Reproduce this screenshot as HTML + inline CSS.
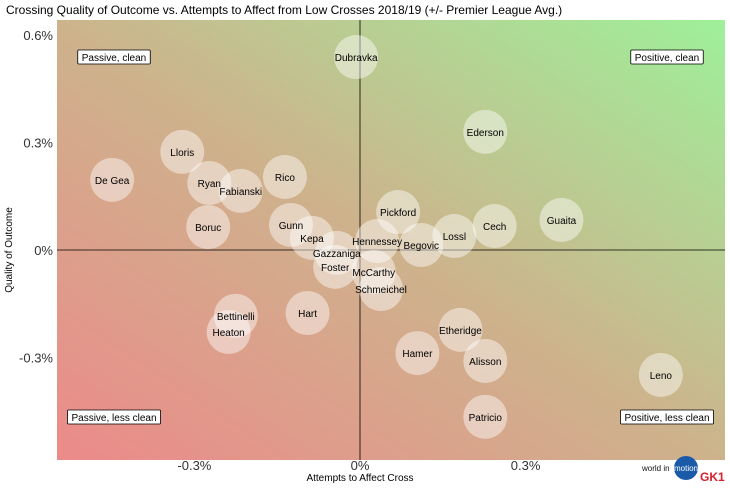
<!DOCTYPE html>
<html><head><meta charset="utf-8"><style>
body{margin:0;background:#fff;font-family:"Liberation Sans",sans-serif;}
svg text{font-family:"Liberation Sans",sans-serif;}
</style></head><body>
<svg id="chart" width="730" height="487">
<defs>
<linearGradient id="bg" x1="0" y1="1" x2="1" y2="0">
<stop offset="0" stop-color="#ec8a8a"/>
<stop offset="0.5" stop-color="#cdb38c"/>
<stop offset="1" stop-color="#9ef09a"/>
</linearGradient>
</defs>
<text x="6" y="14" font-size="12" fill="#000">Crossing Quality of Outcome vs. Attempts to Affect from Low Crosses 2018/19 (+/- Premier League Avg.)</text>
<rect x="57" y="20" width="668" height="440" fill="url(#bg)"/>
<g id="axes"></g>
<g id="points"></g>
<g id="labels"></g>
<g id="quads"></g>
<text x="360" y="481" font-size="10" text-anchor="middle">Attempts to Affect Cross</text>
<text transform="translate(12,250) rotate(-90)" font-size="10" text-anchor="middle">Quality of Outcome</text>
<g>
<text x="642" y="471" font-size="8" fill="#111">world in</text>
<circle cx="686" cy="468" r="12" fill="#1a5aa8"/>
<text x="686" y="471" font-size="8" fill="#fff" text-anchor="middle">motion</text>
<text x="700" y="481" font-size="12" font-weight="bold" fill="#d81e2a">GK1</text>
</g>
</svg>
<script>
const names=["Dubravka","Ederson","Lloris","De Gea","Ryan","Fabianski","Rico","Boruc","Gunn","Kepa","Gazzaniga","Hennessey","Foster","McCarthy","Schmeichel","Pickford","Lossl","Begovic","Cech","Guaita","Bettinelli","Heaton","Hart","Etheridge","Hamer","Alisson","Leno","Patricio"];
const xVals=[-0.007,0.227,-0.322,-0.449,-0.273,-0.216,-0.136,-0.275,-0.125,-0.087,-0.042,0.031,-0.045,0.025,0.038,0.069,0.171,0.111,0.244,0.365,-0.225,-0.238,-0.095,0.182,0.104,0.227,0.545,0.227];
const yVals=[0.539,0.33,0.274,0.196,0.187,0.165,0.204,0.064,0.07,0.034,-0.008,0.025,-0.047,-0.061,-0.109,0.106,0.039,0.014,0.067,0.084,-0.184,-0.229,-0.176,-0.223,-0.288,-0.31,-0.349,-0.466];
const xTicks=[-0.3,0,0.3];
const yTicks=[-0.3,0,0.3,0.6];
const xTickLabels=["-0.3%","0%","0.3%"];
const yTickLabels=["-0.3%","0%","0.3%","0.6%"];
const NS="http://www.w3.org/2000/svg";
const xS=v=>360+v*552;
const yS=v=>250-v*358;
function mk(t,a,p){const e=document.createElementNS(NS,t);for(const k in a)e.setAttribute(k,a[k]);p.appendChild(e);return e;}
const ax=document.getElementById('axes');
const vl=mk('line',{x1:xS(0),x2:xS(0),y1:20,y2:460,stroke:'#000','stroke-width':0.8},ax);


const hl=mk('line',{x1:57,x2:725,y1:yS(0),y2:yS(0),stroke:'#000','stroke-width':0.8},ax);


xTicks.forEach((v,i)=>{const t=mk('text',{x:xS(v),y:470,'font-size':13,'text-anchor':'middle',fill:'#333'},ax);t.textContent=xTickLabels[i];

});
yTicks.forEach((v,i)=>{const t=mk('text',{x:53,y:yS(v)+5,'font-size':13,'text-anchor':'end',fill:'#333'},ax);t.textContent=yTickLabels[i];

});
const pg=document.getElementById('points');
const lg=document.getElementById('labels');
names.forEach((n,i)=>{
const c=mk('circle',{cx:xS(xVals[i]),cy:yS(yVals[i]),r:22,fill:'#fff','fill-opacity':0.45},pg);


});
names.forEach((n,i)=>{
const t=mk('text',{x:xS(xVals[i]),y:yS(yVals[i])+4,'font-size':10,'text-anchor':'middle',fill:'#000'},lg);t.textContent=n;


});
const quads=[["Passive, clean",114,57],["Positive, clean",667,57],["Passive, less clean",114,417],["Positive, less clean",667,417]];
const qg=document.getElementById('quads');
quads.forEach(q=>{const g=mk('g',{},qg);


const t=mk('text',{x:q[1],y:q[2]+4,'font-size':10,'text-anchor':'middle'},g);t.textContent=q[0];
const w=t.getComputedTextLength()+8;
const r=mk('rect',{x:q[1]-w/2,y:q[2]-7,width:w,height:14,fill:'#fff',stroke:'#000','stroke-width':0.8,rx:1},g);
g.insertBefore(r,t);});
</script>
</body></html>
